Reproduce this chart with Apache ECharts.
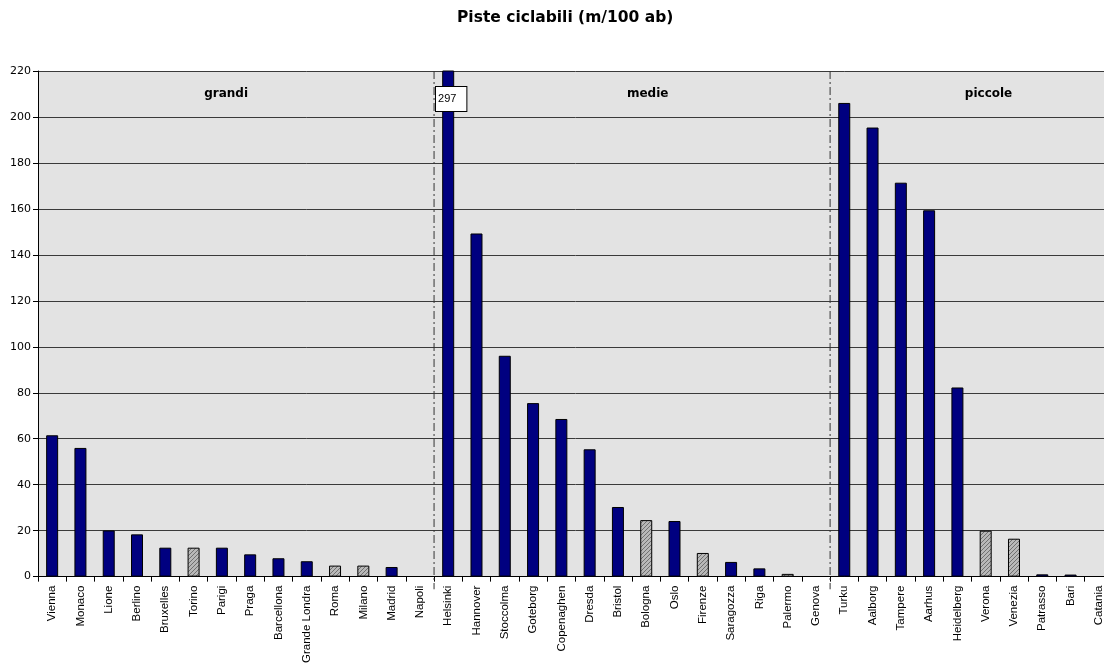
<!DOCTYPE html>
<html>
<head>
<meta charset="utf-8">
<script src="https://cdn.jsdelivr.net/npm/echarts@6/dist/echarts.min.js"></script>
<style>html,body{margin:0;padding:0;background:#fff;overflow:hidden}#c{width:1120px;height:666px}</style>
</head>
<body>
<div id="c"></div>
<script>
var title = 'Piste ciclabili (m/100 ab)';
var categories = ['Vienna','Monaco','Lione','Berlino','Bruxelles','Torino','Parigi','Praga','Barcellona','Grande Londra','Roma','Milano','Madrid','Napoli',
  'Helsinki','Hannover','Stoccolma','Goteborg','Copenaghen','Dresda','Bristol','Bologna','Oslo','Firenze','Saragozza','Riga','Palermo','Genova',
  'Turku','Aalborg','Tampere','Aarhus','Heidelberg','Verona','Venezia','Patrasso','Bari','Catania'];
var values = [61.5,56,20.1,18.4,12.6,12.6,12.6,9.7,8.0,6.7,4.8,4.8,4.2,0,
  297,149.3,96.1,75.5,68.6,55.4,30.3,24.6,24.2,10.3,6.4,3.6,1.2,0,
  206.1,195.4,171.4,159.4,82.3,20.0,16.5,1.0,0.9,0];
var hatched = ['Torino','Roma','Milano','Bologna','Firenze','Palermo','Verona','Venezia'];
var groupNames = ['grandi','medie','piccole'];
var groupLabelAt = [6.65, 21.55, 33.6];
var groupBounds = [0,14,28,38];
var yTicks = {min:0, max:220, interval:20};

var FONT = 'DejaVu Sans, sans-serif';
var FONT2 = 'Liberation Sans, Arial, sans-serif';

var pc = document.createElement('canvas');
pc.width = 4; pc.height = 4;
var g = pc.getContext('2d');
g.fillStyle = '#b8b8b8'; g.fillRect(0,0,4,4);
g.fillStyle = '#707070';
for (var i=0;i<4;i++){ g.fillRect(i,3-i,1,1); }

var barData = categories.map(function(c,i){
  return {value: values[i], itemStyle: {
    color: hatched.indexOf(c) >= 0 ? {image: pc, repeat: 'repeat'} : '#000080',
    borderWidth: values[i] === 0 ? 0 : 1
  }};
});

var groupLabels = groupNames.map(function(n,i){
  return {value: [groupLabelAt[i], 210], name: n};
});
var helsinkiIdx = categories.indexOf('Helsinki');

var boundarySeries = groupBounds.slice(1, groupBounds.length-1).map(function(b){
  return {
    type: 'line', xAxisIndex: 1, clip: false, symbol: 'none', silent: true, z: 4,
    data: [[b, yTicks.max], [b, -5.5]],
    lineStyle: {color: '#333', width: 1, type: [8,3,2,3]}
  };
});

var chart = echarts.init(document.getElementById('c'));
chart.setOption({
  animation: false,
  textStyle: {fontFamily: FONT},
  title: {text: title, left: 452, top: 5, textStyle: {fontSize: 15.5, fontWeight: 'bold', color: '#000', fontFamily: FONT}},
  grid: {left: 38, top: 71, width: 1075, height: 506, show: true, backgroundColor: '#e3e3e3', borderWidth: 0},
  xAxis: [{
    type: 'category', data: categories, boundaryGap: true,
    axisLine: {lineStyle: {color: '#000', width: 1}},
    axisTick: {show: true, length: 5, lineStyle: {color: '#000'}},
    axisLabel: {rotate: 90, fontSize: 11.5, color: '#000', margin: 9, interval: 0, fontFamily: FONT2},
    splitLine: {show: false}
  },{
    type: 'value', min: 0, max: groupBounds[groupBounds.length-1], show: false
  }],
  yAxis: {
    type: 'value', min: yTicks.min, max: yTicks.max, interval: yTicks.interval,
    axisLine: {show: true, lineStyle: {color: '#000'}},
    axisTick: {show: true, length: 5, lineStyle: {color: '#000'}},
    axisLabel: {fontSize: 11, color: '#000', margin: 7, fontFamily: FONT},
    splitLine: {show: true, lineStyle: {color: '#3a3a3a', width: 1}}
  },
  series: [{
    type: 'bar', data: barData, barWidth: 12, clip: true,
    itemStyle: {borderColor: '#000', borderWidth: 1}
  },{
    type: 'scatter', xAxisIndex: 1, symbolSize: 0, data: groupLabels, z: 5,
    itemStyle: {opacity: 1},
    label: {show: true, position: 'inside', formatter: '{b}', fontSize: 12, fontWeight: 'bold', color: '#000', fontFamily: FONT}
  },{
    type: 'scatter', xAxisIndex: 1, symbolSize: 0, z: 6,
    itemStyle: {opacity: 1},
    data: [[helsinkiIdx + 0.5, yTicks.max]],
    label: {show: true, position: 'bottom', distance: 16, offset: [3,0],
      formatter: function(){ return String(values[helsinkiIdx]); },
      backgroundColor: '#fff', borderColor: '#000', borderWidth: 1,
      padding: [6,10,7,2], fontSize: 11, color: '#000', align: 'center', fontFamily: FONT2}
  }].concat(boundarySeries)
});
</script>
</body>
</html>
